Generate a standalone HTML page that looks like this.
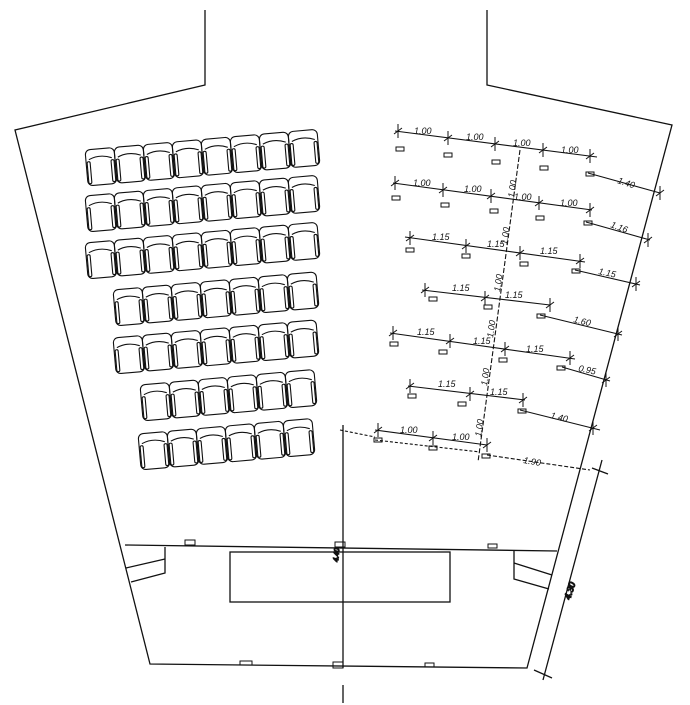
<!DOCTYPE html>
<html><head><meta charset="utf-8"><style>
html,body{margin:0;padding:0;background:#fff;}
svg{display:block}
text{font-family:"Liberation Sans",sans-serif;font-style:italic;font-size:9px;fill:#111}
</style></head><body>
<svg id="s" width="690" height="705" viewBox="0 0 690 705" xmlns="http://www.w3.org/2000/svg" stroke="#111" fill="none" stroke-width="1.3">
<polyline points="205,10 205,85 15,130 150,664 527,668 672,125 487,85 487,10"/>
<line x1="125" y1="545" x2="557" y2="551"/>
<rect x="230" y="552" width="220" height="50"/>
<line x1="343" y1="425" x2="343" y2="668"/>
<line x1="343" y1="685" x2="343" y2="703"/>
<polyline points="165,547 165,573 131,582"/><line x1="126" y1="568" x2="165" y2="559"/>
<polyline points="514,551 514,579 549,589"/><line x1="514" y1="563" x2="552" y2="575"/>
<rect x="185" y="540" width="10" height="5" stroke-width="1"/>
<rect x="335" y="542" width="10" height="5" stroke-width="1"/>
<rect x="488" y="544" width="9" height="4" stroke-width="1"/>
<rect x="240" y="661" width="12" height="4" stroke-width="1"/>
<rect x="333" y="662" width="10" height="6" stroke-width="1"/>
<rect x="425" y="663" width="9" height="4" stroke-width="1"/>
<text transform="translate(338,562) rotate(-85)" style="font-size:7px">4.40</text>
<line x1="602" y1="460" x2="543" y2="680"/>
<line x1="592" y1="468" x2="608" y2="474"/><line x1="534" y1="670" x2="552" y2="678"/>
<text transform="translate(570,600) rotate(-72)">4.30</text>
<g stroke-width="1.1">
<line x1="395" y1="131" x2="597" y2="157"/>
<line x1="588" y1="173" x2="660" y2="193"/>
<line x1="393" y1="183" x2="592" y2="210"/>
<line x1="586" y1="222" x2="650" y2="240"/>
<line x1="405" y1="237" x2="585" y2="262"/>
<line x1="575" y1="270" x2="640" y2="285"/>
<line x1="422" y1="290" x2="550" y2="305"/>
<line x1="540" y1="315" x2="622" y2="335"/>
<line x1="390" y1="333" x2="575" y2="359"/>
<line x1="562" y1="367" x2="610" y2="381"/>
<line x1="408" y1="386" x2="525" y2="400"/>
<line x1="520" y1="410" x2="600" y2="430"/>
<line x1="375" y1="430" x2="487" y2="445"/>
<line x1="375" y1="440" x2="480" y2="452" stroke-dasharray="3,2"/>
<line x1="487" y1="455" x2="590" y2="470" stroke-dasharray="4,2"/>
<line x1="340" y1="430" x2="375" y2="437" stroke-dasharray="3,2"/>
<line x1="520" y1="150" x2="478" y2="462" stroke-dasharray="5,2"/>
</g>
<g id="ticks" stroke-width="1"></g>
<g id="marks" stroke-width="1"></g>
<g id="chairs" stroke-width="1.1"></g>
<g stroke="none">
<text x="414" y="134">1.00</text><text x="466" y="140">1.00</text><text x="513" y="146">1.00</text><text x="561" y="153">1.00</text>
<text transform="translate(617,183) rotate(18)">1.40</text>
<text x="413" y="186">1.00</text><text x="464" y="192">1.00</text><text x="514" y="200">1.00</text><text x="560" y="206">1.00</text>
<text transform="translate(610,227) rotate(20)">1.16</text>
<text x="432" y="240">1.15</text><text x="487" y="247">1.15</text><text x="540" y="254">1.15</text>
<text transform="translate(598,274) rotate(12)">1.15</text>
<text x="452" y="291">1.15</text><text x="505" y="298">1.15</text>
<text transform="translate(573,322) rotate(14)">1.60</text>
<text x="417" y="335">1.15</text><text x="473" y="344">1.15</text><text x="526" y="352">1.15</text>
<text transform="translate(578,371) rotate(12)">0.95</text>
<text x="438" y="387">1.15</text><text x="490" y="395">1.15</text>
<text transform="translate(550,418) rotate(14)">1.40</text>
<text x="400" y="433">1.00</text><text x="452" y="440">1.00</text>
<text transform="translate(523,463) rotate(10)">1.90</text>
<text transform="translate(514,198) rotate(-82)">1.00</text>
<text transform="translate(507,245) rotate(-82)">1.00</text>
<text transform="translate(500,292) rotate(-82)">1.00</text>
<text transform="translate(493,338) rotate(-82)">1.00</text>
<text transform="translate(487,386) rotate(-82)">1.00</text>
<text transform="translate(481,437) rotate(-82)">1.00</text>
</g>
</svg>
<script>
var NS="http://www.w3.org/2000/svg";
function el(p,t,a){var e=document.createElementNS(NS,t);for(var k in a)e.setAttribute(k,a[k]);p.appendChild(e);return e;}
var ch=document.getElementById('chairs');
var rows=[[85,150,8],[85,196,8],[85,243,8],[113,290,7],[113,338,7],[140,385,6],[138,434,6]];
rows.forEach(function(r){
  for(var i=0;i<r[2];i++){
    var x=r[0]+i*29,y=r[1]-i*2.6;
    var g=el(ch,'g',{transform:'translate('+x+','+y+') rotate(-5)'});
    el(g,'rect',{x:0,y:0,width:29,height:36,rx:5});
    el(g,'path',{d:'M3 10 Q14 5 26 10'});
    el(g,'rect',{x:1,y:12,width:3,height:22,rx:1.5});
    el(g,'rect',{x:25,y:12,width:3,height:22,rx:1.5});
  }
});
var tk=document.getElementById('ticks');
var T=[[398,131],[448,138],[495,144],[543,150],[590,156],[395,183],[443,190],[491,196],[539,203],[590,210],[410,238],[466,246],[520,253],[580,261],[425,290],[485,298],[550,305],[393,333],[450,341],[505,349],[570,358],[410,386],[470,394],[523,400],[378,430],[433,438],[487,445],[660,193],[648,240],[636,284],[618,334],[606,380],[593,428]];
T.forEach(function(p){el(tk,'line',{x1:p[0],y1:p[1]-7,x2:p[0],y2:p[1]+7});el(tk,'line',{x1:p[0]-4,y1:p[1]+3,x2:p[0]+4,y2:p[1]-3});});
var mk=document.getElementById('marks');
var M=[[396,147],[444,153],[492,160],[540,166],[586,172],[392,196],[441,203],[490,209],[536,216],[584,221],[406,248],[462,254],[520,262],[572,269],[429,297],[484,305],[537,314],[390,342],[439,350],[499,358],[557,366],[408,394],[458,402],[518,409],[374,438],[429,446],[482,454]];
M.forEach(function(p){el(mk,'rect',{x:p[0],y:p[1],width:8,height:4});});
</script>
</body></html>
